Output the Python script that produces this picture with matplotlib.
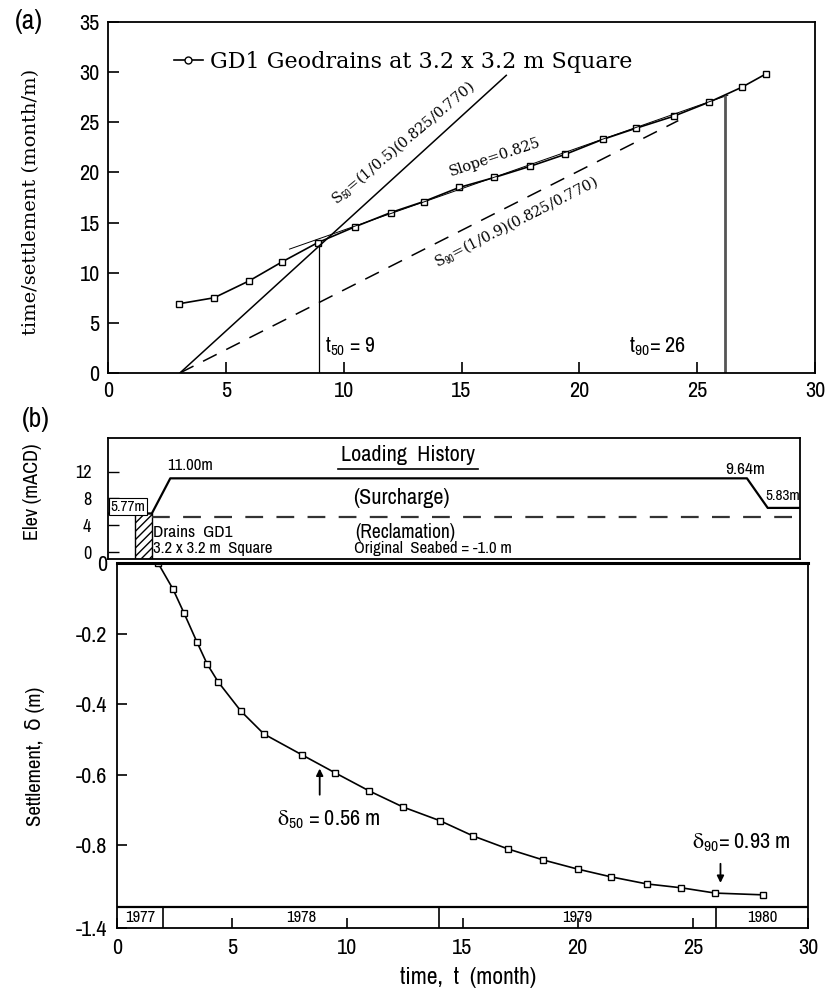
import numpy as np
import matplotlib
matplotlib.use("Agg")
import matplotlib.pyplot as plt
from matplotlib import font_manager
from matplotlib.lines import Line2D
from matplotlib.patches import Rectangle

# pick a narrow sans if one is installed
names = sorted({f.name for f in font_manager.fontManager.ttflist})
narrow = [n for n in names if 'Narrow' in n or 'Condensed' in n]
NARROW = narrow[0] if narrow else 'DejaVu Sans'
SERIF = 'DejaVu Serif'

plt.rcParams['font.family'] = [NARROW, 'DejaVu Sans']
plt.rcParams['mathtext.fontset'] = 'custom'
plt.rcParams['mathtext.rm'] = NARROW
plt.rcParams['mathtext.it'] = NARROW
plt.rcParams['mathtext.default'] = 'rm'

# ---- panel (a): time/settlement vs time
t_a = [3.0, 4.5, 6.0, 7.4, 8.9, 10.5, 12.0, 13.4, 14.9, 16.4, 17.9, 19.4,
       21.0, 22.4, 24.0, 25.5, 26.9, 27.9]
ts_a = [6.9, 7.5, 9.2, 11.1, 13.0, 14.6, 16.0, 17.1, 18.5, 19.5, 20.6, 21.8,
        23.3, 24.4, 25.6, 27.0, 28.5, 29.8]
t0 = 3.05                 # intercept of S50 / S90 lines
s50 = 2.143               # (1/0.5)(0.825/0.770)
s90 = 1.19                # (1/0.9)(0.825/0.770)
slope = 0.825
slope_b = 6.0
t50, t50_y = 8.95, 12.8
t90, t90_y = 26.2, 27.5

# ---- panel (b): settlement vs time
t_b = [1.78, 2.43, 2.91, 3.47, 3.91, 4.39, 5.38, 6.38, 8.03, 9.47, 10.94,
       12.42, 14.03, 15.46, 16.98, 18.5, 20.0, 21.45, 23.0, 24.5, 25.97, 28.05]
d_b = [0.0, -0.074, -0.142, -0.224, -0.286, -0.337, -0.42, -0.485, -0.544,
       -0.595, -0.646, -0.692, -0.731, -0.774, -0.811, -0.842, -0.868, -0.89,
       -0.91, -0.921, -0.936, -0.941]
years = ['1977', '1978', '1979', '1980']
year_edges = [0, 2, 14, 26, 30]

# loading history (elevation, mACD)
load_t = [0, 1.9, 2.7, 27.7, 28.6, 30]
load_e = [5.77, 5.77, 11.0, 11.0, 6.6, 6.6]
reclam_e = 5.3
drain_t = (1.17, 1.9)

fig = plt.figure(figsize=(8.27, 9.89), dpi=100)
W, H = 827, 989


def px_axes(l, t, r, b):
    return fig.add_axes([l / W, 1 - b / H, (r - l) / W, (b - t) / H])


# ================= (a)
ax = px_axes(108, 22, 815, 373)
ax.plot(t_a, ts_a, '-s', color='k', lw=1.2, ms=4, mfc='white', mew=1)
tt = np.array([t0, 16.9])
ax.plot(tt, s50 * (tt - t0), color='k', lw=1.1)
tt = np.array([t0, 24.2])
ax.plot(tt, s90 * (tt - t0), color='k', lw=1.1, dashes=(10, 7))
tt = np.array([7.7, 26.3])
ax.plot(tt, slope * tt + slope_b, color='k', lw=0.7)
ax.plot([t50, t50], [0, t50_y], color='k', lw=0.9)
ax.plot([t90, t90], [0, t90_y], color='#555555', lw=2.0)

ax.text(9.2, 2.6, r'$\mathregular{t_{50}}$ = 9', fontsize=15.5, va='center')
ax.text(22.1, 2.6, r'$\mathregular{t_{90}}$= 26', fontsize=16, va='center')
ax.text(12.5, 23.0, r'S$_{50}$=(1/0.5)(0.825/0.770)', family=SERIF, fontsize=10.5,
        rotation=40, ha='center', va='center', rotation_mode='anchor')
ax.text(16.4, 21.5, 'Slope=0.825', family=SERIF, fontsize=10.5,
        rotation=18.5, ha='center', va='center', rotation_mode='anchor')
ax.text(17.3, 15.1, r'S$_{90}$=(1/0.9)(0.825/0.770)', family=SERIF, fontsize=10.5,
        rotation=27, ha='center', va='center', rotation_mode='anchor')

handle = Line2D([], [], color='k', lw=1.2, marker='o', ms=5, mfc='white',
                markevery=[1])
ax.legend([handle], ['GD1 Geodrains at 3.2 x 3.2 m Square'], loc='center left',
          bbox_to_anchor=(0.065, 0.886), frameon=False, handlelength=1.3,
          handletextpad=0.3, prop={'family': SERIF, 'size': 16})

ax.set_xlim(0, 30)
ax.set_ylim(0, 35)
ax.set_xticks(range(0, 31, 5))
ax.set_yticks(range(0, 36, 5))
ax.tick_params(direction='in', length=8, width=1.2, labelsize=16, pad=6)
for s in ax.spines.values():
    s.set_linewidth(1.3)
ax.set_ylabel('time/settlement (month/m)', family=SERIF, fontsize=14)
ax.yaxis.set_label_coords(-0.096, 0.487)

# ================= (b) elevation strip
ae = px_axes(108, 438, 800, 559)
ae.plot(load_t, load_e, color='k', lw=1.6)
ae.plot([drain_t[1], 30], [reclam_e, reclam_e], color='#333333', lw=1.6,
        dashes=(8, 6))
ae.add_patch(Rectangle((drain_t[0], -1), drain_t[1] - drain_t[0], load_e[0] + 1,
                       facecolor='white', edgecolor='k', hatch='////', lw=1.0))
ae.set_xlim(0, 30)
ae.set_ylim(-1, 17)
ae.set_xticks([])
ae.set_yticks([12, 8, 4, 0])
ae.tick_params(direction='in', length=8, width=1.0, labelsize=13, pad=12)
for s in ae.spines.values():
    s.set_linewidth(1.3)
ae.set_ylabel('Elev (mACD)', fontsize=14.5)
ae.yaxis.set_label_coords(-0.095, 0.554)

lh = ae.text(13.0, 14.5, 'Loading  History', fontsize=16, ha='center', va='center')
ae.text(12.7, 8.1, '(Surcharge)', fontsize=16, ha='center', va='center')
ae.text(12.9, 2.9, '(Reclamation)', fontsize=14, ha='center', va='center')
ae.text(14.1, 0.5, 'Original  Seabed = -1.0 m', fontsize=12, ha='center', va='center')
ae.text(1.95, 3.0, 'Drains  GD1', fontsize=12.5, va='center')
ae.text(1.95, 0.5, '3.2 x 3.2 m  Square', fontsize=12, va='center')
ae.text(2.55, 12.9, '11.00m', fontsize=12, va='center')
ae.text(26.75, 12.3, '9.64m', fontsize=12.5, va='center')
ae.text(28.5, 8.3, '5.83m', fontsize=11, va='center')
ae.text(0.1, 6.8, '5.77m', fontsize=11, va='center',
        bbox=dict(boxstyle='square,pad=0.1', fc='white', ec='k', lw=0.8))

# ================= (b) settlement
ab = px_axes(117, 563, 808, 928)
ybot = -1.035
ab.plot(t_b, d_b, '-s', color='k', lw=1.2, ms=5, mfc='white', mew=1)
band_top = -0.975
ab.axhline(band_top, color='k', lw=1.6)
ab.vlines(year_edges[1:-1], ybot, band_top, color='k', lw=1.2)
for i, y in enumerate(years):
    ab.text((year_edges[i] + year_edges[i + 1]) / 2, (band_top + ybot) / 2, y,
            fontsize=12, ha='center', va='center')

ab.annotate('', xy=(8.8, -0.575), xytext=(8.8, -0.665),
            arrowprops=dict(arrowstyle='-|>', color='k', lw=1.3, mutation_scale=10))
ab.text(9.2, -0.729, r'$\mathregular{\delta_{50}}$ = 0.56 m', fontsize=16,
        ha='center', va='center')
ab.annotate('', xy=(26.2, -0.915), xytext=(26.2, -0.845),
            arrowprops=dict(arrowstyle='-|>', color='k', lw=1.3, mutation_scale=10))
ab.text(27.1, -0.794, r'$\mathregular{\delta_{90}}$= 0.93 m', fontsize=16,
        ha='center', va='center')

ab.set_xlim(0, 30)
ab.set_ylim(ybot, 0)
ab.set_xticks(range(0, 31, 5))
ab.set_yticks([0, -0.2, -0.4, -0.6, -0.8, ybot])
ab.set_yticklabels(['0', '-0.2', '-0.4', '-0.6', '-0.8', '-1.4'])
ab.tick_params(direction='in', length=7, width=1.2, labelsize=16, pad=7)
for s in ab.spines.values():
    s.set_linewidth(1.3)
ab.spines['top'].set_linewidth(2.2)
ab.set_xlabel('time,  t  (month)', fontsize=17)
ab.xaxis.set_label_coords(0.508, -0.107)
ab.set_ylabel('Settlement,  δ (m)', fontsize=15)
ab.yaxis.set_label_coords(-0.104, 0.471)

fig.text(15 / W, 1 - 22 / H, '(a)', fontsize=20, va='center')
fig.text(22 / W, 1 - 419 / H, '(b)', fontsize=20, va='center')

# underline for "Loading History" taken from the text's own extent
fig.canvas.draw()
bb = lh.get_window_extent()
inv = fig.transFigure.inverted()
(x0, y0), (x1, _) = inv.transform([(bb.x0 - 3, bb.y0 - 4), (bb.x1 + 3, bb.y0)])
fig.add_artist(Line2D([x0, x1], [y0, y0], transform=fig.transFigure, color='k', lw=1.2))

fig.savefig('out.png', dpi=100, facecolor='white')
